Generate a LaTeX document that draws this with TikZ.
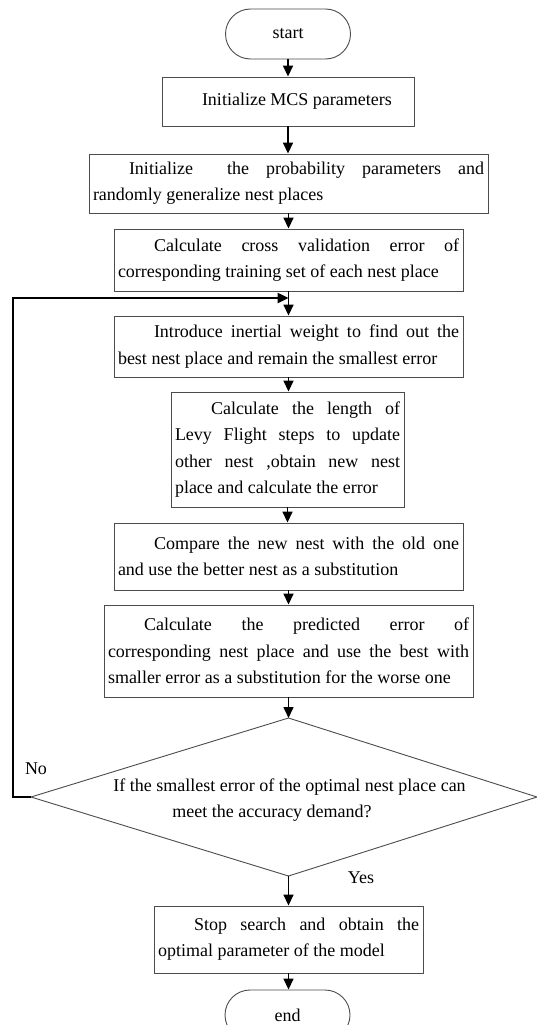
\documentclass[tikz,border=0pt]{standalone}
\usepackage{fontspec}
\setmainfont{Liberation Serif}
\usetikzlibrary{arrows.meta}
\begin{document}
\begin{tikzpicture}[x=1pt,y=-1pt,
  every node/.style={font=\fontsize{18}{26.3}\selectfont, text=black},
  box/.style={draw=black!70, line width=0.9pt, inner xsep=4pt, inner ysep=0pt, align=justify},
  term/.style={draw=black!70, line width=0.9pt, rounded corners=25pt, minimum width=125pt, minimum height=50pt},
  arr/.style={line width=1.6pt, -{Triangle[length=11pt,width=10pt]}},
  back/.style={line width=2.4pt, -{Triangle[length=11pt,width=10pt]}},
  dia/.style={draw=black!70, line width=0.9pt},
  lbl/.style={inner sep=0pt}
]
\useasboundingbox[fill=white] (0,0) rectangle (536,1025);

\node[term] (start) at (288,34) {start};
\node[box, text width=244pt, minimum height=49pt] (b1) at (288,101.5)
  {\hspace*{2em}Initialize MCS parameters};
\node[box, text width=391pt, minimum height=59pt] (b2) at (288.5,183.5)
  {\hspace*{2em}Initialize\ \ the probability parameters and\linebreak randomly generalize nest places};
\node[box, text width=341pt, minimum height=62pt] (b3) at (288.5,260)
  {\hspace*{2em}Calculate cross validation error of\linebreak corresponding training set of each nest place};
\node[box, text width=341pt, minimum height=61pt] (b4) at (288.5,346.5)
  {\hspace*{2em}Introduce inertial weight to find out the\linebreak best nest place and remain the smallest error};
\node[box, text width=225pt, minimum height=115pt] (b5) at (287.5,449.5)
  {\hspace*{2em}Calculate the length of\linebreak Levy Flight steps to update\linebreak other nest ,obtain new nest\linebreak place and calculate the error};
\node[box, text width=341pt, minimum height=67pt] (b6) at (288.5,556.5)
  {\hspace*{2em}Compare the new nest with the old one\linebreak and use the better nest as a substitution};
\node[box, text width=361pt, minimum height=92pt] (b7) at (288.5,651)
  {\hspace*{2em}Calculate the predicted error of\linebreak corresponding nest place and use the best with\linebreak smaller error as a substitution for the worse one};

\coordinate (dtop) at (288.5,718);
\coordinate (dright) at (537,797);
\coordinate (dbot) at (288.5,876);
\coordinate (dleft) at (31,797);
\draw[dia] (dtop) -- (dright) -- (dbot) -- (dleft) -- cycle;
\node[align=left, inner sep=0pt] (q) at (289.5,800)
  {If the smallest error of the optimal nest place can\\\hspace*{59pt}meet the accuracy demand?};

\node[box, text width=261pt, minimum height=67pt] (b8) at (288.5,939.5)
  {\hspace*{2em}Stop search and obtain the\linebreak optimal parameter of the model};
\node[term] (end) at (287.5,1015) {end};

\node[lbl] (no) at (36,769) {No};
\node[lbl] (yes) at (361,878) {Yes};

\draw[arr] (start.south) -- (start.south |- b1.north);
\draw[arr] (b1.south) -- (b1.south |- b2.north);
\draw[arr] (b2.south) -- (b2.south |- b3.north);
\draw[arr] (b3.south) -- (b3.south |- b4.north);
\draw[arr] (b4.south) -- (b4.south |- b5.north);
\draw[arr] (b5.south) -- (b5.south |- b6.north);
\draw[arr] (b6.south) -- (b6.south |- b7.north);
\draw[arr] (b7.south) -- (dtop);
\draw[arr] (dbot) -- (dbot |- b8.north);
\draw[arr] (b8.south) -- (b8.south |- end.north);

\coordinate (cl) at (13,298);
\draw[back] (dleft) -| (cl) -- (b3.south |- cl);
\end{tikzpicture}
\end{document}
